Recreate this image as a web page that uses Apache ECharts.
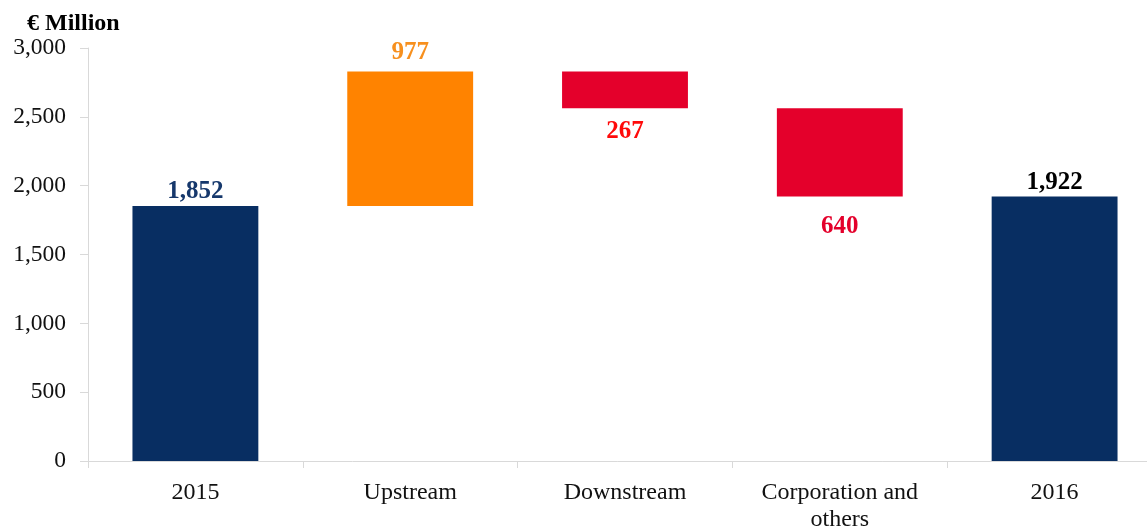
<!DOCTYPE html>
<html>
<head>
<meta charset="utf-8">
<script src="https://cdn.jsdelivr.net/npm/echarts@6/dist/echarts.min.js"></script>
<style>
  html, body { margin: 0; padding: 0; background: #fff; overflow: hidden; }
  #chart { width: 1147px; height: 526px; }
</style>
</head>
<body>
<div id="chart"></div>
<script>
var categories = ['2015', 'Upstream', 'Downstream', 'Corporation and\nothers', '2016'];
var changes = [1852, 977, -267, -640, 1922];
var isTotal = [true, false, false, false, true];
var yTicks = [0, 500, 1000, 1500, 2000, 2500, 3000];

var barColors = ['#082e62', '#ff8300', '#e4002b', '#e4002b', '#082e62'];
var labelColors = ['#16386c', '#f7901e', '#ff0a0a', '#e4002b', '#000000'];

// running totals -> invisible base + visible height
var base = [], height = [];
var run = 0;
for (var i = 0; i < changes.length; i++) {
  if (isTotal[i]) {
    base.push(0);
    height.push(changes[i]);
    run = changes[i];
  } else {
    var next = run + changes[i];
    base.push(Math.min(run, next));
    height.push(Math.abs(changes[i]));
    run = next;
  }
}

var labelDist = [2, 6, 11, 18, 1];

var chart = echarts.init(document.getElementById('chart'));
chart.setOption({
  animation: false,
  textStyle: { fontFamily: 'Liberation Serif' },
  title: {
    text: '€ Million',
    left: 27,
    top: 12,
    padding: 0,
    textStyle: { fontFamily: 'Liberation Serif', fontSize: 24, fontWeight: 'bold', color: '#000' }
  },
  grid: { left: 88, right: -15, top: 48, bottom: 65, containLabel: false, outerBoundsMode: 'none' },
  xAxis: {
    type: 'category',
    data: categories,
    axisLine: { lineStyle: { color: '#d9d9d9', width: 1 } },
    axisTick: { show: true, length: 7, lineStyle: { color: '#d9d9d9', width: 1 } },
    axisLabel: {
      interval: 0,
      margin: 18,
      fontSize: 24,
      color: '#111',
      lineHeight: 27,
      fontFamily: 'Liberation Serif'
    }
  },
  yAxis: {
    type: 'value',
    min: yTicks[0],
    max: yTicks[yTicks.length - 1],
    interval: yTicks[1] - yTicks[0],
    axisLine: { show: true, lineStyle: { color: '#d9d9d9', width: 1 } },
    axisTick: { show: true, length: 8, lineStyle: { color: '#d9d9d9', width: 1 } },
    splitLine: { show: false },
    axisLabel: {
      margin: 22,
      fontSize: 23.5,
      color: '#111',
      fontFamily: 'Liberation Serif',
      formatter: function (v) { return v.toLocaleString('en-US'); }
    }
  },
  series: [
    {
      type: 'bar',
      stack: 'wf',
      silent: true,
      itemStyle: { color: 'transparent' },
      data: base
    },
    {
      type: 'bar',
      stack: 'wf',
      barWidth: '58.6%',
      data: height.map(function (h, i) {
        var down = !isTotal[i] && changes[i] < 0;
        return {
          value: h,
          itemStyle: { color: barColors[i] },
          label: {
            show: true,
            position: down ? 'bottom' : 'top',
            distance: labelDist[i],
            color: labelColors[i],
            fontSize: 25,
            fontWeight: 'bold',
            fontFamily: 'Liberation Serif',
            formatter: function () { return Math.abs(changes[i]).toLocaleString('en-US'); }
          }
        };
      })
    }
  ]
});
</script>
</body>
</html>
